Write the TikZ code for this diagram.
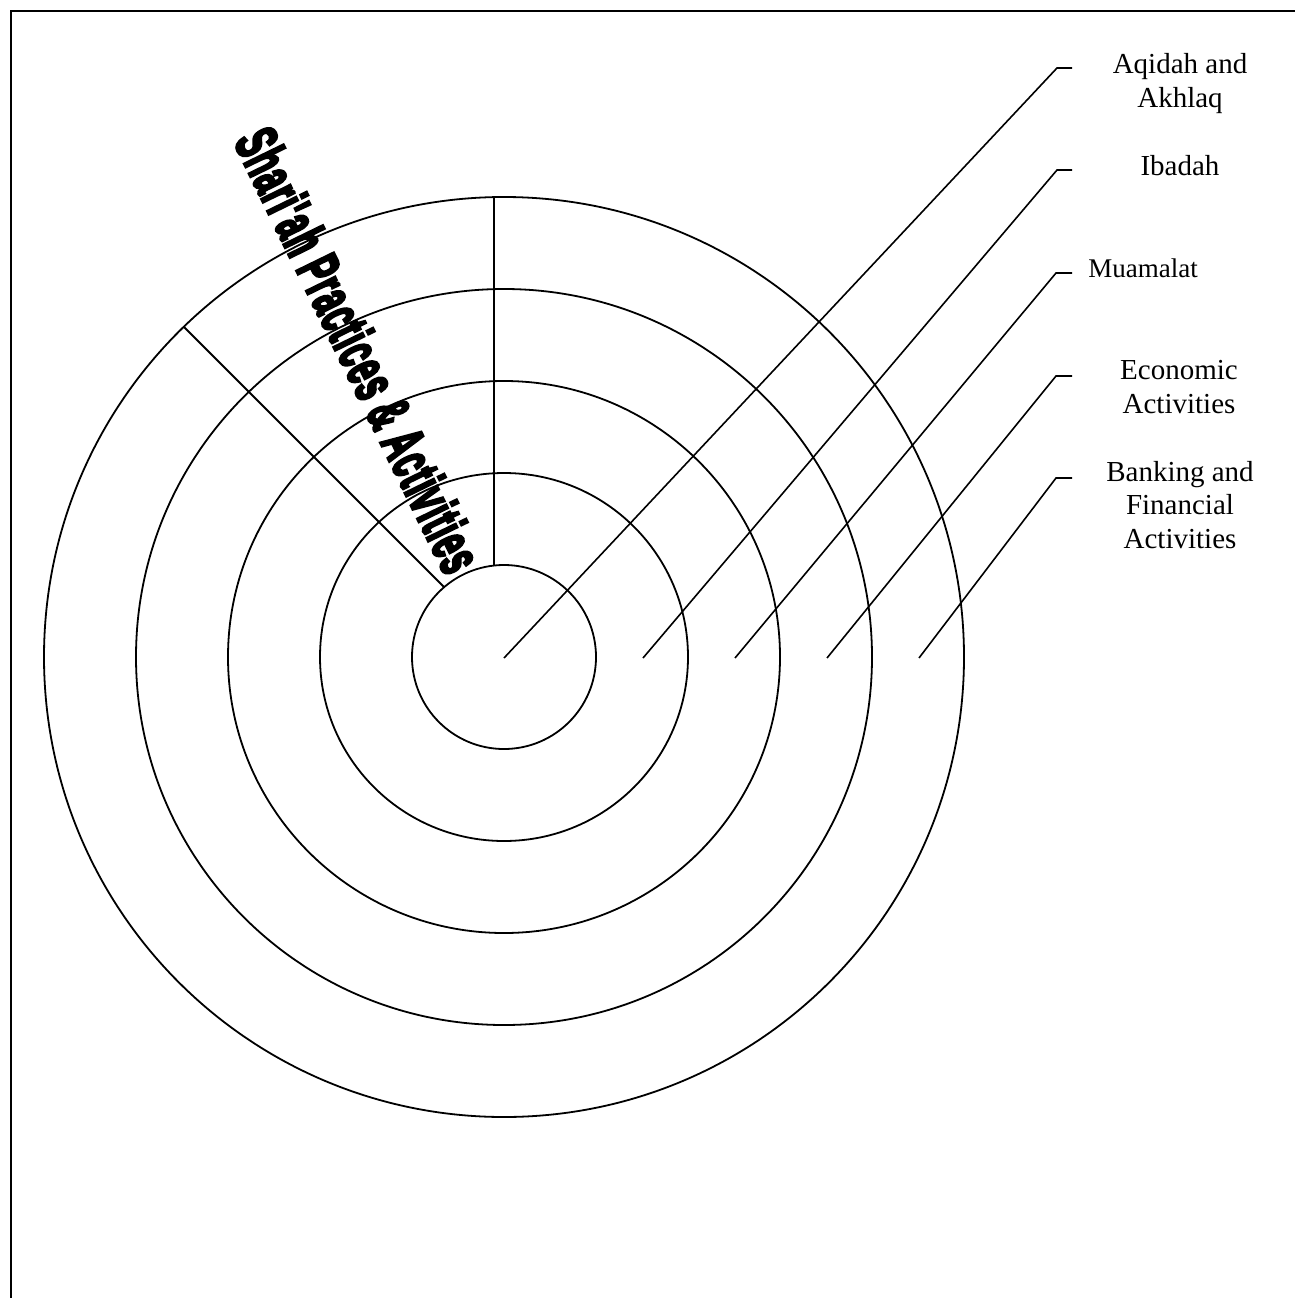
\documentclass[tikz,border=0pt]{standalone}
\usepackage{fontspec}
\setmainfont{Liberation Serif}
\newfontfamily\titlefont[BoldFeatures={FakeBold=5.5,LetterSpace=3}]{Liberation Sans}
\begin{document}
\begin{tikzpicture}[x=1pt,y=-1pt,
  ring/.style={draw, line width=1.8pt},
  cut/.style={line width=1.8pt},
  leader/.style={line width=1.6pt},
  lbl/.style={font=\fontsize{29}{33.5}\selectfont, align=center, anchor=base, inner sep=0pt},
  frame/.style={line width=2.2pt}]
\useasboundingbox (0,0) rectangle (1295,1298);
% page frame (only top and left edges visible)
\draw[frame] (11,1298) -- (11,11) -- (1295,11);
% concentric rings
\coordinate (O) at (504,657);
\foreach \r in {92,184,276,368,460} \draw[ring] (O) circle[radius=\r];
% radial cuts
\draw[cut] (494,197.1) -- (494,565.5);
\draw[cut] (183.8,326.8) -- (444.1,587.1);
% title
\node[rotate=-64, inner sep=0pt] (title) at (359,350)
  {\resizebox{485pt}{43pt}{\titlefont\bfseries Shari'ah Practices \& Activities}};
% labels (anchor = baseline of the last line)
\node[lbl] (aqidah) at (1180,107) {Aqidah and\\Akhlaq};
\node[lbl] (ibadah) at (1180,175) {Ibadah};
\node[lbl, font=\fontsize{27}{31}\selectfont] (muamalat) at (1143,277) {Muamalat};
\node[lbl] (economic) at (1179,413) {Economic\\Activities};
\node[lbl] (banking) at (1180,548) {Banking and\\Financial\\Activities};
% leader lines
\coordinate (s1) at (504,658);  \coordinate (k1) at (1057,68);  \coordinate (e1) at (1072,68);
\coordinate (s2) at (643,658);  \coordinate (k2) at (1057,170); \coordinate (e2) at (1072,170);
\coordinate (s3) at (735,658);  \coordinate (k3) at (1056,273); \coordinate (e3) at (1072,273);
\coordinate (s4) at (827,658);  \coordinate (k4) at (1056,376); \coordinate (e4) at (1072,376);
\coordinate (s5) at (919,658);  \coordinate (k5) at (1056,478); \coordinate (e5) at (1072,478);
\foreach \i in {1,...,5} \draw[leader] (s\i) -- (k\i) -- (e\i);
\end{tikzpicture}
\end{document}
